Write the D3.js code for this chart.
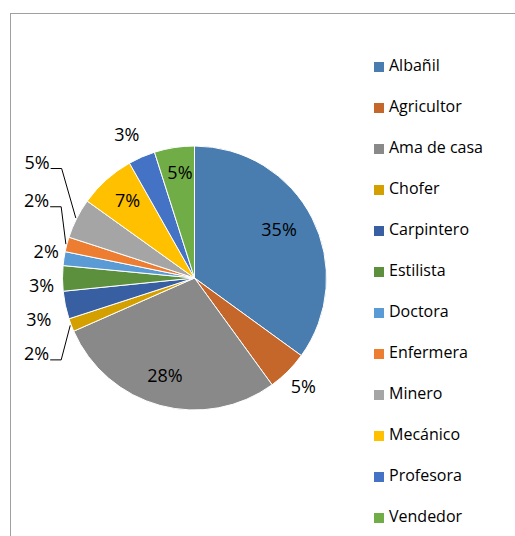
<!DOCTYPE html>
<html>
<head>
<meta charset="utf-8">
<script src="https://cdn.jsdelivr.net/npm/d3@7"></script>
<style>
  html, body { margin: 0; padding: 0; background: #fff; }
  svg { display: block; }
</style>
</head>
<body>
<div id="chart"></div>
<script>
// Occupations and their share of the pie (percent)
const categories = ['Albañil', 'Agricultor', 'Ama de casa', 'Chofer', 'Carpintero', 'Estilista',
  'Doctora', 'Enfermera', 'Minero', 'Mecánico', 'Profesora', 'Vendedor'];
const shares = [35.0, 5.0, 28.4, 1.6, 3.4, 3.1, 1.7, 1.8, 4.9, 6.9, 3.3, 4.9];
const colors = ['#497daf', '#c5672b', '#898989', '#d4a000', '#395fa3', '#5c903c',
  '#5b9bd5', '#ed7d31', '#a5a5a5', '#ffc000', '#4472c4', '#70ad47'];

// Where each data label goes: inside, outside, or outside with a leader line.
// nudge moves it from its default spot (like Excel's best fit does)
const labelPlace = [
  { mode: 'in', nudge: [-6, -2] },
  { mode: 'out', nudge: [0, 0] },
  { mode: 'in', nudge: [-3, 0] },
  { mode: 'lead', nudge: [-14, 21] },
  { mode: 'out', nudge: [-5, 10] },
  { mode: 'out', nudge: [1, 7] },
  { mode: 'out', nudge: [4, -4] },
  { mode: 'lead', nudge: [-9, -38] },
  { mode: 'lead', nudge: [-20, -46] },
  { mode: 'in', nudge: [1, -2] },
  { mode: 'out', nudge: [-6, -2] },
  { mode: 'in', nudge: [1, -5] }
];

const width = 515;
const height = 536;
const cx = 194.5;
const cy = 278;
const radius = 132;
const font = "'Open Sans', 'Liberation Sans', sans-serif";

const svg = d3.select('#chart')
  .append('svg')
  .attr('width', width)
  .attr('height', height);

// Chart area border (runs off the right and bottom of the picture)
svg.append('rect')
  .attr('x', 10.5)
  .attr('y', 13.5)
  .attr('width', 560)
  .attr('height', 600)
  .attr('fill', '#fff')
  .attr('stroke', '#a0a0a0')
  .attr('stroke-width', 1);

const total = d3.sum(shares);
const data = categories.map((c, i) => ({ name: c, value: shares[i], i }));

const pie = d3.pie()
  .sort(null)
  .value(d => d.value);

const arcs = pie(data);

const arc = d3.arc()
  .innerRadius(0)
  .outerRadius(radius);

const g = svg.append('g')
  .attr('transform', `translate(${cx},${cy})`);

g.selectAll('path.slice')
  .data(arcs)
  .enter()
  .append('path')
  .attr('class', 'slice')
  .attr('d', arc)
  .attr('fill', d => colors[d.data.i])
  .attr('stroke', '#fff')
  .attr('stroke-width', 1);

// polar helper, angle clockwise from 12 o'clock like d3.pie
const polar = (a, r) => [Math.sin(a) * r, -Math.cos(a) * r];
const pct = d3.format('.0%');

const labels = g.selectAll('text.lbl')
  .data(arcs)
  .enter()
  .append('text')
  .attr('class', 'lbl')
  .attr('text-anchor', 'middle')
  .attr('dy', '0.35em')
  .attr('font-family', font)
  .attr('font-size', '18px')
  .attr('fill', '#000')
  .each(function(d) {
    const place = labelPlace[d.data.i];
    const mid = (d.startAngle + d.endAngle) / 2;
    const r = place.mode === 'in' ? radius * 0.77 : radius + 22;
    const p = polar(mid, r);
    d.lx = p[0] + place.nudge[0];
    d.ly = p[1] + place.nudge[1];
    d.mid = mid;
  })
  .attr('x', d => d.lx)
  .attr('y', d => d.ly)
  .text(d => pct(d.data.value / total));

// Leader lines for the labels pushed away from their slice
labels.filter(d => labelPlace[d.data.i].mode === 'lead').each(function(d) {
  const w = this.getComputedTextLength();
  const x0 = d.lx + w / 2 + 1;
  const y0 = d.ly + 6;
  const edge = polar(d.mid, radius + 1);
  g.append('polyline')
    .attr('points', [[x0, y0], [x0 + 11, y0], edge].map(p => p.join(',')).join(' '))
    .attr('fill', 'none')
    .attr('stroke', '#000')
    .attr('stroke-width', 1);
});

// Legend
const legendY = d3.scalePoint()
  .domain(categories)
  .range([65, 516]);

const legend = svg.append('g')
  .selectAll('g')
  .data(categories)
  .enter()
  .append('g')
  .attr('transform', d => `translate(0,${legendY(d)})`);

legend.append('rect')
  .attr('x', 374)
  .attr('y', -3)
  .attr('width', 10)
  .attr('height', 10)
  .attr('fill', (d, i) => colors[i]);

legend.append('text')
  .attr('x', 389)
  .attr('dy', '0.35em')
  .attr('font-family', font)
  .attr('font-size', '16px')
  .attr('fill', '#000')
  .text(d => d);
</script>
</body>
</html>
